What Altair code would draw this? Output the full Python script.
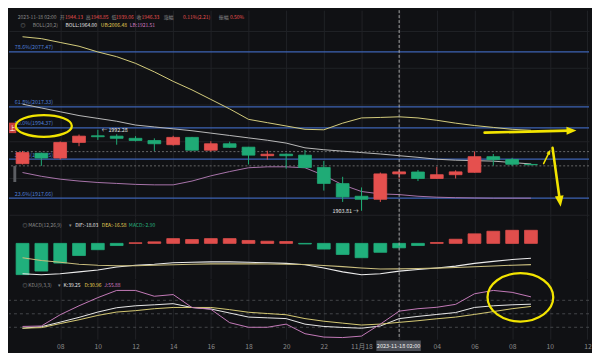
import math
import altair as alt
import pandas as pd

# ---------------- data ----------------
times = pd.date_range("2023-11-17 06:00", periods=28, freq="h")
candle_idx = list(range(1, 29))
opens = [1955.28, 1966.69, 1961.50, 1978.50, 1985.76, 1985.35, 1982.96, 1980.58, 1976.02, 1984.00,
         1970.00, 1977.05, 1973.32, 1963.99, 1965.65, 1964.61, 1951.13, 1933.50, 1919.71, 1916.39,
         1944.13, 1946.20, 1939.10, 1943.25, 1945.84, 1962.95, 1959.84, 1954.45]
closes = [1967.41, 1961.50, 1978.50, 1985.35, 1984.73, 1982.96, 1980.58, 1977.05, 1984.00, 1970.00,
          1977.05, 1973.11, 1964.61, 1965.65, 1963.99, 1951.13, 1933.71, 1918.98, 1916.39, 1944.12,
          1946.33, 1939.10, 1943.25, 1946.35, 1962.95, 1959.64, 1954.65, 1954.14]
highs = [1969.17, 1967.41, 1979.54, 1987.11, 1992.28, 1987.42, 1985.35, 1982.96, 1985.76, 1984.52,
         1979.85, 1979.34, 1973.63, 1969.49, 1966.38, 1970.21, 1958.28, 1940.97, 1929.35, 1945.63,
         1948.85, 1948.43, 1951.85, 1948.02, 1968.66, 1965.86, 1961.71, 1955.49]
lows = [1954.50, 1952.89, 1959.84, 1974.36, 1981.20, 1976.02, 1979.54, 1969.17, 1974.98, 1969.49,
        1968.45, 1972.60, 1954.45, 1959.64, 1949.78, 1950.82, 1925.93, 1913.49, 1903.81, 1913.49,
        1939.06, 1936.30, 1938.89, 1939.10, 1945.63, 1953.20, 1952.89, 1953.45]
boll_mid = [2020.30, 2016.15, 2012.00, 2007.85, 2004.74, 2001.63, 1997.48, 1995.41, 1993.34, 1991.26,
            1988.67, 1986.08, 1983.48, 1980.89, 1977.78, 1972.60, 1970.52, 1968.97, 1967.41, 1965.86,
            1964.00, 1962.23, 1960.15, 1959.11, 1958.59, 1958.08, 1956.52, 1954.97]
boll_ub = [2093.92, 2091.85, 2087.70, 2083.55, 2077.33, 2072.15, 2064.89, 2055.56, 2045.19, 2035.85,
           2025.48, 2015.11, 2003.70, 2000.08, 1996.45, 1992.81, 1992.30, 1999.56, 2005.26, 2005.78,
           2006.48, 2005.26, 2002.67, 1999.56, 1996.96, 1994.89, 1992.81, 1991.78]
boll_lb = [1945.63, 1941.49, 1938.37, 1936.30, 1934.74, 1933.71, 1932.67, 1932.15, 1932.15, 1936.30,
           1942.00, 1946.67, 1950.82, 1951.86, 1951.86, 1950.82, 1942.52, 1932.15, 1924.89, 1922.30,
           1921.51, 1919.71, 1918.67, 1918.15, 1917.84, 1917.63, 1917.63, 1917.63]
macd_hist = [-20.3, -18.0, -12.8, -7.9, -4.1, -1.4, 0.4, 1.0, 3.1, 2.5, 3.1, 3.1, 1.9, 1.4, 1.2,
             -0.4, -3.7, -7.2, -9.3, -5.8, -2.9, -1.4, 0.6, 2.7, 6.2, 7.9, 8.5, 8.5]
dif = [-19.7, -20.4, -19.7, -18.5, -17.3, -15.4, -14.2, -13.6, -12.6, -12.3, -12.0, -12.0, -12.3, -12.6,
       -13.0, -13.9, -16.0, -18.5, -20.4, -19.7, -18.03, -17.0, -16.0, -14.8, -13.0, -11.7, -10.5, -9.7]
dea = [-9.3, -11.1, -12.3, -13.6, -14.2, -14.5, -14.5, -14.2, -13.9, -13.6, -13.3, -13.3, -13.3, -13.4,
       -13.6, -13.7, -14.4, -15.1, -16.0, -16.7, -16.58, -16.3, -16.1, -15.7, -15.2, -14.7, -14.2, -13.8]
k_vals = [17.9, 21.3, 31.4, 42.0, 53.9, 63.5, 67.8, 70.0, 72.5, 64.0, 60.7, 51.7, 42.7, 41.0, 39.3,
          27.0, 21.8, 19.6, 17.9, 22.8, 39.25, 44.2, 48.5, 52.8, 64.1, 67.8, 70.0, 71.4]
d_vals = [17.9, 19.2, 28.2, 36.7, 46.4, 53.9, 57.0, 61.3, 64.1, 64.1, 64.1, 59.2, 53.4, 50.6, 47.9,
          39.3, 33.5, 29.2, 25.0, 27.1, 30.96, 34.6, 38.9, 42.7, 48.5, 54.9, 61.3, 66.3]
j_vals = [21.8, 22.8, 47.9, 67.8, 86.0, 102.0, 102.0, 89.0, 92.8, 64.0, 60.0, 30.3, 20.0, 20.0, 27.0,
          5.7, -1.8, -2.9, 0.4, 27.0, 55.88, 61.3, 64.5, 71.0, 94.5, 102.0, 97.7, 87.7]
fib_pct = ["78.6%", "61.8%", "50.0%", "38.2%", "23.6%"]
fib_price = [2077.47, 2017.33, 1994.37, 1960.15, 1917.66]
dotted_levels = [1968.45, 1952.90]
kdj_levels = [80, 50, 20]
price_grid = [1900, 1920, 1940, 1960, 1980, 2000, 2020, 2040, 2060, 2080, 2100, 2120]
tick_idx = [3, 5, 7, 9, 11, 13, 15, 17, 19, 23, 25, 27, 29, 31]
tick_text = ["08", "10", "12", "14", "16", "18", "20", "22", "11月18", "04", "06", "08", "10", "12"]

# ---------------- styling / layout ----------------
BG = "#101114"
GRID = "#202226"
RED = "#e5504e"
GREEN = "#1fab76"
GREYT = "#8c8c8c"
WHITE = "#e6e6e6"
YEL_T = "#e2cf55"
PINK = "#d07cc2"
FIB = "#3d63b3"
FIBT = "#4f7fd8"
ANN = "#f2e400"
FONT = "Noto Sans CJK SC"
FS = 5.0  # info-line font size

SX = 584 / 600
SY = 347 / 363
W = 584
H1 = 218 * SY
H2 = 64 * SY
H3 = 63 * SY

C = 20  # cross-hair candle (2023-11-18 02:00)
CROSS_I = candle_idx[C]
cross_time = times[C].strftime("%Y-%m-%d %H:%M")

XS = alt.Scale(domain=[0.2813, 31.083], nice=False, zero=False)
YS = alt.Scale(domain=[1896.89, 2122.96], nice=False, zero=False)
YM = alt.Scale(domain=[-22.83, 16.66], nice=False, zero=False)
YK = alt.Scale(domain=[-6.4, 126.7], nice=False, zero=False)
CS = alt.Scale(domain=["up", "down"], range=[RED, GREEN])

grid_idx = sorted(tick_idx + [CROSS_I])
X_GRID = alt.Axis(values=grid_idx, grid=True, gridColor=GRID, labels=False, ticks=False,
                  domain=False, title=None)
Y_GRID = alt.Axis(values=price_grid, grid=True, gridColor=GRID, labels=False, ticks=False,
                  domain=False, title=None)
expr = "''"
for v, t in zip(reversed(tick_idx), reversed(tick_text)):
    expr = f"datum.value == {v} ? '{t}' : ({expr})"
X_LAB = alt.Axis(values=grid_idx, grid=True, gridColor=GRID, labels=True, labelExpr=expr,
                 labelColor="#8a8a8a", labelFontSize=6.8, labelFont=FONT, labelPadding=4,
                 ticks=False, domain=False, title=None, labelOverlap=False)

one = pd.DataFrame({"k": [0]})

df = pd.DataFrame({
    "i": candle_idx, "open": opens, "close": closes, "high": highs, "low": lows,
    "mid": boll_mid, "ub": boll_ub, "lb": boll_lb,
    "hist": macd_hist, "dif": dif, "dea": dea, "K": k_vals, "D": d_vals, "J": j_vals,
})
df["x0"] = df["i"] - 0.34
df["x1"] = df["i"] + 0.34
df["dir"] = ["up" if c >= o else "down" for o, c in zip(opens, closes)]
df["mdir"] = ["up" if h >= 0 else "down" for h in macd_hist]
fib_df = pd.DataFrame({"price": fib_price,
                       "label": [f"{p}({v:.2f})" for p, v in zip(fib_pct, fib_price)]})
dot_df = pd.DataFrame({"price": dotted_levels})
kl_df = pd.DataFrame({"lv": kdj_levels})


def T(s, x, y, color, size=FS, align="left", baseline="middle", weight="normal"):
    return alt.Chart(one).mark_text(text=s, align=align, baseline=baseline, color=color,
                                    fontSize=size, font=FONT, fontWeight=weight).encode(
        x=alt.value(x), y=alt.value(y))


def seg(x1, y1, x2, y2, width):
    return alt.Chart(one).mark_rule(color=ANN, strokeWidth=width, strokeCap="round").encode(
        x=alt.value(x1), y=alt.value(y1), x2=alt.value(x2), y2=alt.value(y2))


def head(xt, yt, dx, dy, length):
    n = math.hypot(dx, dy)
    ux, uy = dx / n, dy / n
    ang = math.degrees(math.atan2(dx, -dy)) % 360
    cx, cy = xt - ux * length / 2, yt - uy * length / 2
    return alt.Chart(one).mark_point(shape="M0,-1L0.8,1L-0.8,1Z", size=length ** 2, filled=True,
                                     color=ANN, opacity=1, angle=ang).encode(
        x=alt.value(cx), y=alt.value(cy))


def arrow(x1, y1, xt, yt, length, width, off):
    # reference-pixel coordinates -> panel pixels
    a, b, c, d = x1 * SX, (y1 - off) * SY, xt * SX, (yt - off) * SY
    dx, dy = c - a, d - b
    n = math.hypot(dx, dy)
    bx, by = c - dx / n * length * 0.8, d - dy / n * length * 0.8
    return [seg(a, b, bx, by, width), head(c, d, dx, dy, length)]


def ellipse(cx, cy, w, h, off):
    a = h / w
    path = f"M-1,0A1,{a:.3f},0,1,0,1,0A1,{a:.3f},0,1,0,-1,0"
    return alt.Chart(one).mark_point(shape=path, size=(w * SX) ** 2, filled=False, stroke=ANN,
                                     strokeWidth=2.3, opacity=1).encode(
        x=alt.value(cx * SX), y=alt.value((cy - off) * SY))


base = alt.Chart(df)
X = alt.X("i:Q", scale=XS, axis=X_GRID)

# ---------------- main (candles + BOLL + fib) ----------------
fib_rules = alt.Chart(fib_df).mark_rule(color=FIB, strokeWidth=1.3).encode(
    y=alt.Y("price:Q", scale=YS, axis=Y_GRID))
fib_text = alt.Chart(fib_df).mark_text(align="left", baseline="bottom", dy=-1.5, color=FIBT,
                                       fontSize=5.4, font=FONT).encode(
    x=alt.value(6 * SX), y=alt.Y("price:Q", scale=YS, axis=Y_GRID), text="label:N")
dots = alt.Chart(dot_df).mark_rule(color="#7d7d7d", strokeDash=[2, 2], strokeWidth=0.8).encode(
    y=alt.Y("price:Q", scale=YS, axis=Y_GRID))
mid_l = base.mark_line(color="#b9b9b9", strokeWidth=1).encode(x=X, y=alt.Y("mid:Q", scale=YS, axis=Y_GRID))
ub_l = base.mark_line(color="#d4cc7c", strokeWidth=1).encode(x=X, y=alt.Y("ub:Q", scale=YS, axis=Y_GRID))
lb_l = base.mark_line(color="#a874aa", strokeWidth=1).encode(x=X, y=alt.Y("lb:Q", scale=YS, axis=Y_GRID))
wicks = base.mark_rule(strokeWidth=1).encode(
    x=X, y=alt.Y("low:Q", scale=YS, axis=Y_GRID), y2="high:Q",
    color=alt.Color("dir:N", scale=CS, legend=None))
bodies = base.mark_rect(strokeWidth=0.8).encode(
    x=alt.X("x0:Q", scale=XS, axis=X_GRID), x2="x1:Q",
    y=alt.Y("open:Q", scale=YS, axis=Y_GRID), y2="close:Q",
    fill=alt.Fill("dir:N", scale=CS, legend=None),
    stroke=alt.Stroke("dir:N", scale=CS, legend=None))
cross_main = alt.Chart(one).mark_rule(color="#b5b5b5", strokeDash=[3, 2], strokeWidth=0.9).encode(
    x=alt.datum(CROSS_I, scale=XS))

hi_pos = max(range(len(highs)), key=lambda n: highs[n])
lo_pos = min(range(len(lows)), key=lambda n: lows[n])
hi_lab = alt.Chart(one).mark_text(text=f"← {highs[hi_pos]:.2f}", align="left", dx=4, color=WHITE,
                                  fontSize=5.4, font=FONT, baseline="middle").encode(
    x=alt.datum(candle_idx[hi_pos]), y=alt.datum(highs[hi_pos]))
lo_lab = alt.Chart(one).mark_text(text=f"{lows[lo_pos]:.2f} →", align="right", dx=-3, color=WHITE,
                                  fontSize=5.4, font=FONT, baseline="middle").encode(
    x=alt.datum(candle_idx[lo_pos]), y=alt.datum(lows[lo_pos]))

prev_c = closes[C - 1]
chg = closes[C] - prev_c
hdr = [
    (cross_time, 9, GREYT), ("开", 52.5, GREYT), (f"{opens[C]:.2f}", 58, RED),
    ("高", 79.5, GREYT), (f"{highs[C]:.2f}", 84.5, RED),
    ("低", 106, GREYT), (f"{lows[C]:.2f}", 110.5, RED),
    ("收", 132, GREYT), (f"{closes[C]:.2f}", 137, RED),
    ("涨幅", 160, GREYT), (f"{chg / prev_c * 100:.2f}%({chg:.2f})", 180, RED),
    ("振幅", 217, GREYT), (f"{(highs[C] - lows[C]) / prev_c * 100:.2f}%", 228.5, RED),
]
hdr2 = [
    ("◎", 12, GREYT), ("BOLL(20,2)", 24.5, GREYT), (f"BOLL:{boll_mid[C]:.2f}", 58.5, WHITE),
    (f"UB:{boll_ub[C]:.2f}", 95, YEL_T), (f"LB:{boll_lb[C]:.2f}", 125, PINK),
]
main_txt = [T(s, x * SX, 7.4 * SY, col) for s, x, col in hdr] + \
           [T(s, x * SX, 15.8 * SY, col) for s, x, col in hdr2]
tag = [alt.Chart(one).mark_rect(color="#c8403c").encode(
           x=alt.value(0), x2=alt.value(7.5 * SX), y=alt.value(118.5 * SY), y2=alt.value(129.5 * SY)),
       T("上", 3.7 * SX, 124 * SY, "#ffffff", size=5.5, align="center"),
       alt.Chart(one).mark_rect(color="#5c5e63").encode(
           x=alt.value(4.5 * SX), x2=alt.value(7.5 * SX), y=alt.value(164 * SY), y2=alt.value(181 * SY))]

main_ann = [ellipse(36, 122, 58, 22.5, 0)] + \
    arrow(492, 129, 587, 126.7, 10, 2.6, 0) + \
    arrow(553, 161.7, 560, 147, 5, 1.5, 0) + \
    arrow(562.3, 145, 570.7, 207, 11, 2.6, 0)

main = alt.layer(fib_rules, fib_text, dots, mid_l, ub_l, lb_l, wicks, bodies, cross_main,
                 hi_lab, lo_lab, *main_txt, *tag, *main_ann).properties(width=W, height=H1)

# ---------------- MACD ----------------
MS = alt.Scale(domain=["up", "down"], range=["#e04e4c", "#20b07c"])
mbars = base.mark_rect(strokeWidth=0.8).encode(
    x=alt.X("x0:Q", scale=XS, axis=X_GRID), x2="x1:Q",
    y=alt.Y("hist:Q", scale=YM, axis=None), y2=alt.datum(0),
    fill=alt.Fill("mdir:N", scale=MS, legend=None),
    stroke=alt.Stroke("mdir:N", scale=MS, legend=None))
dif_l = base.mark_line(color="#ececec", strokeWidth=1.1).encode(x=X, y=alt.Y("dif:Q", scale=YM, axis=None))
dea_l = base.mark_line(color="#c9bd7e", strokeWidth=1.1).encode(x=X, y=alt.Y("dea:Q", scale=YM, axis=None))
cross_m = alt.Chart(one).mark_rule(color="#b5b5b5", strokeDash=[3, 2], strokeWidth=0.9).encode(
    x=alt.datum(CROSS_I, scale=XS))
my = (226 - 218) * SY
macd_txt = [T("◎", 14 * SX, my, GREYT), T("MACD(12,26,9)", 20 * SX, my, GREYT),
            T("▾", 62.5 * SX, my, GREYT),
            T(f"DIF:{dif[C]:.2f}", 68.5 * SX, my, WHITE),
            T(f"DEA:{dea[C]:.2f}", 96 * SX, my, YEL_T),
            T(f"MACD:{macd_hist[C]:.2f}", 124 * SX, my, "#27b57f")]
macd = alt.layer(mbars, dif_l, dea_l, cross_m, *macd_txt).properties(width=W, height=H2)

# ---------------- KDJ ----------------
XK = alt.X("i:Q", scale=XS, axis=X_LAB)
klev = alt.Chart(kl_df).mark_rule(color="#4a4c50", strokeDash=[3, 3], strokeWidth=0.9).encode(
    y=alt.Y("lv:Q", scale=YK, axis=None))
k_l = base.mark_line(color="#e8e8e8", strokeWidth=1).encode(x=XK, y=alt.Y("K:Q", scale=YK, axis=None))
d_l = base.mark_line(color="#d6ca74", strokeWidth=1).encode(x=XK, y=alt.Y("D:Q", scale=YK, axis=None))
j_l = base.mark_line(color="#c47ab8", strokeWidth=1).encode(x=XK, y=alt.Y("J:Q", scale=YK, axis=None))
cross_k = alt.Chart(one).mark_rule(color="#b5b5b5", strokeDash=[3, 2], strokeWidth=0.9).encode(
    x=alt.datum(CROSS_I, scale=XS))
ky = (288 - 282) * SY
kdj_txt = [T("◎", 14 * SX, ky, GREYT), T("KDJ(9,3,3)", 20 * SX, ky, GREYT),
           T("▾", 50.5 * SX, ky, GREYT),
           T(f"K:{k_vals[C]:.2f}", 56.5 * SX, ky, WHITE),
           T(f"D:{d_vals[C]:.2f}", 78 * SX, ky, YEL_T),
           T(f"J:{j_vals[C]:.2f}", 98.5 * SX, ky, PINK)]
xbox = [alt.Chart(one).mark_rect(color="#4d5058").encode(
            x=alt.value(380 * SX), x2=alt.value(426 * SX),
            y=alt.value((346.5 - 282) * SY), y2=alt.value((357.5 - 282) * SY)),
        T(cross_time, 403 * SX, (352 - 282) * SY, "#eeeeee", size=5.6, align="center")]
kdj_ann = [ellipse(529, 301, 68, 50, 282)]
kdj = alt.layer(klev, k_l, d_l, j_l, cross_k, *kdj_txt, *xbox, *kdj_ann).properties(width=W, height=H3)

chart = alt.vconcat(main, macd, kdj, spacing=0, bounds="flush", background=BG, padding=0) \
    .resolve_scale(x="independent", y="independent", color="independent",
                   fill="independent", stroke="independent") \
    .resolve_axis(x="independent", y="independent") \
    .configure_view(stroke=None)

chart.save("out.html", embed_options={"renderer": "svg", "actions": False})
